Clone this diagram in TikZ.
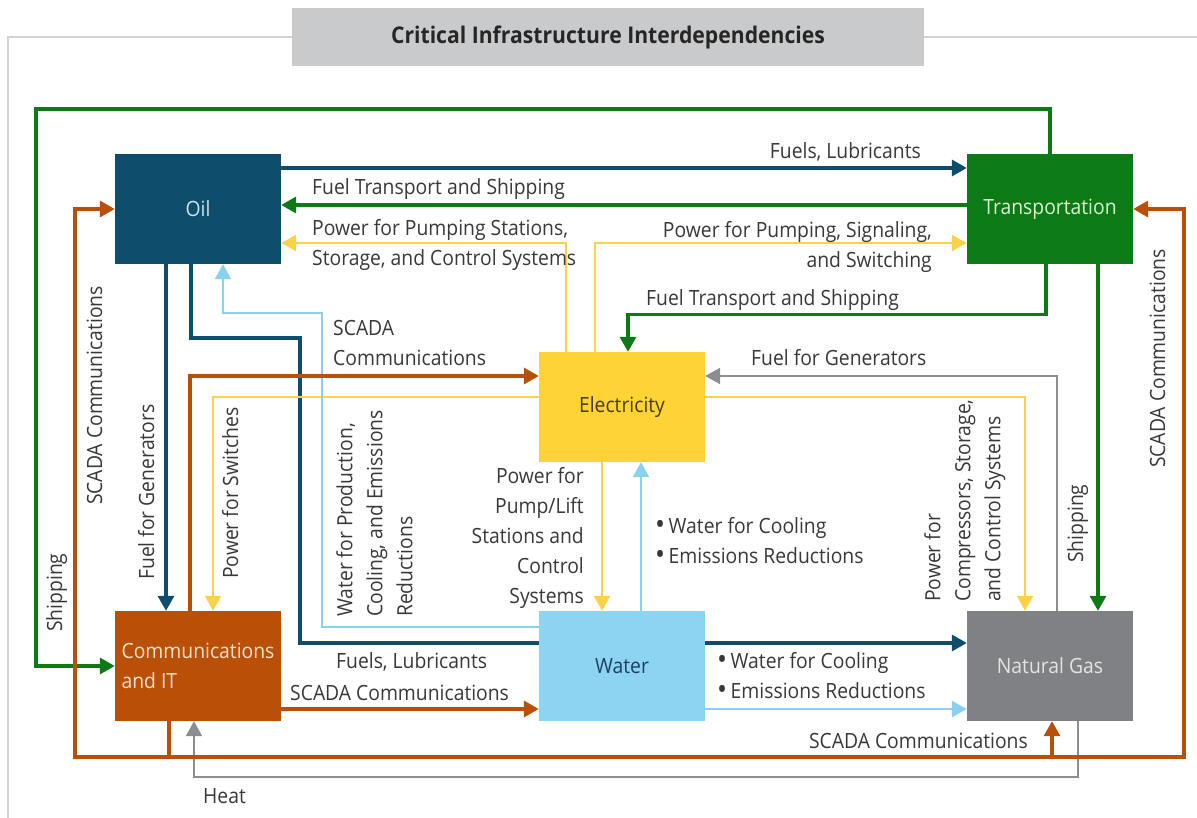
\documentclass[tikz,border=0pt]{standalone}
\usepackage{fontspec}
\setmainfont{Open Sans}[FakeStretch=0.92]
\usetikzlibrary{arrows.meta}
\pgfdeclarelayer{bg}
\pgfsetlayers{bg,main}
\definecolor{oilc}{HTML}{0E4D6C}
\definecolor{oilt}{HTML}{CCE3EE}
\definecolor{grnc}{HTML}{0C7A15}
\definecolor{grnt}{HTML}{DDF0D2}
\definecolor{yelc}{HTML}{FDD336}
\definecolor{yell}{HTML}{FAD24A}
\definecolor{yelt}{HTML}{4A3C0A}
\definecolor{watc}{HTML}{8DD4F3}
\definecolor{watl}{HTML}{88D1F1}
\definecolor{watt}{HTML}{1F3F5F}
\definecolor{comc}{HTML}{BA5008}
\definecolor{comt}{HTML}{F8E2CC}
\definecolor{gasc}{HTML}{808184}
\definecolor{gasl}{HTML}{8C8D90}
\definecolor{gast}{HTML}{E4E4E4}
\definecolor{titlec}{HTML}{C9CACC}
\definecolor{framec}{HTML}{D2D2D2}
\definecolor{txtc}{HTML}{383838}
\newcommand{\bigbul}{\raisebox{-1.2pt}{\fontsize{29}{30}\selectfont •}\,}
\begin{document}
\begin{tikzpicture}[x=1pt,y=-1pt,
  every node/.style={font=\fontsize{21}{30}\selectfont, inner sep=0pt},
  box/.style={minimum width=166pt, minimum height=110pt, inner sep=0pt},
  lbl/.style={text=txtc},
  arr/.style={-{Triangle[length=15pt,width=16pt]}},
  thick line/.style={line width=3.4pt, arr},
  thin line/.style={line width=2.2pt, arr},
  gline/.style={thick line, draw=grnc},
  bline/.style={thick line, draw=oilc},
  oline/.style={thick line, draw=comc},
  yline/.style={thin line, draw=yell},
  lline/.style={thin line, draw=watl},
  gyline/.style={thin line, draw=gasl}]
\useasboundingbox (0,0) rectangle (1197,818);
% title and frame
\node[fill=titlec, minimum width=632pt, minimum height=58pt, text=black!85, font=\fontsize{23}{30}\selectfont\bfseries] (title) at (608,37) {Critical Infrastructure Interdependencies};
\draw[framec, line width=2pt] (title.west) -- (8,37) -- (8,818);
\draw[framec, line width=2pt] (title.east) -- (1197,37);
% boxes
\node[box, fill=oilc, text=oilt] (oil) at (198,209) {Oil};
\node[box, fill=grnc, text=grnt] (trans) at (1050,209) {Transportation};
\node[box, fill=yelc, text=yelt] (elec) at (622,407) {Electricity};
\node[box, fill=watc, text=watt] (water) at (622,666) {Water};
\node[box, fill=comc, text=comt, align=left] (comms) at (198,666) {Communications\\and IT};
\node[box, fill=gasc, text=gast] (gas) at (1050,666) {Natural Gas};
% connectors
\begin{pgfonlayer}{bg}
% green (Transportation)
\draw[gline] (trans.north) |- (36,109) |- (comms.west);
\draw[gline] ([shift={(0,-4)}]trans.west) -- ([shift={(0,-4)}]oil.east);
\draw[gline] ([shift={(-4,0)}]trans.south) |- ([shift={(6,-37)}]elec.north) -- ([shift={(6,0)}]elec.north);
\draw[gline] ([shift={(48,0)}]trans.south) -- ([shift={(48,0)}]gas.north);
% dark blue (Oil)
\draw[bline] ([shift={(0,-41)}]oil.east) -- ([shift={(0,-41)}]trans.west);
\draw[bline] ([shift={(-32,0)}]oil.south) -- ([shift={(-32,0)}]comms.north);
\draw[bline] ([shift={(-7,0)}]oil.south) |- (300,338) |- ([shift={(0,-23)}]gas.west);
% yellow (Electricity)
\draw[yline] ([shift={(-56,0)}]elec.north) |- ([shift={(0,34)}]oil.east);
\draw[yline] ([shift={(-27,0)}]elec.north) |- ([shift={(0,34)}]trans.west);
\draw[yline] ([shift={(0,-10)}]elec.west) -| ([shift={(15,0)}]comms.north);
\draw[yline] ([shift={(-20,0)}]elec.south) -- ([shift={(-20,0)}]water.north);
\draw[yline] ([shift={(0,-10)}]elec.east) -| ([shift={(-25,0)}]gas.north);
% light blue (Water)
\draw[lline] ([shift={(0,-39)}]water.west) -| (322,313) -| ([shift={(25,0)}]oil.south);
\draw[lline] ([shift={(19,0)}]water.north) -- ([shift={(19,0)}]elec.south);
\draw[lline] ([shift={(0,43)}]water.east) -- ([shift={(0,43)}]gas.west);
% gray (Natural Gas)
\draw[gyline] ([shift={(7,0)}]gas.north) |- ([shift={(0,-31)}]elec.east);
\draw[gyline] ([shift={(28,0)}]gas.south) |- ([shift={(-4,56)}]comms.south) -- ([shift={(-4,0)}]comms.south);
% orange (Communications)
\draw[oline] ([shift={(-29,0)}]comms.south) |- (75,757) |- (oil.west);
\draw[oline] ([shift={(-29,0)}]comms.south) |- (1184,757) |- (trans.east);
\draw[oline] ([shift={(2,36)}]gas.south) -- ([shift={(2,0)}]gas.south);
\draw[oline] ([shift={(-8,0)}]comms.north) |- ([shift={(0,-31)}]elec.west);
\draw[oline] ([shift={(0,43)}]comms.east) -- ([shift={(0,43)}]water.west);
\end{pgfonlayer}
% horizontal labels
\node[lbl, anchor=base east] (l1) at (921,159) {Fuels, Lubricants};
\node[lbl, anchor=base west] (l2) at (312,195) {Fuel Transport and Shipping};
\node[lbl, anchor=north west, align=left] (l3) at (312,219) {Power for Pumping Stations,\\Storage, and Control Systems};
\node[lbl, anchor=north east, align=right] (l4) at (932,221) {Power for Pumping, Signaling,\\and Switching};
\node[lbl, anchor=base west] (l5) at (646,306) {Fuel Transport and Shipping};
\node[lbl, anchor=north west, align=left] (l6) at (333,320) {SCADA\\Communications};
\node[lbl, anchor=base west] (l7) at (751,365) {Fuel for Generators};
\node[lbl, anchor=north east, align=right] (l8) at (584,467) {Power for\\Pump/Lift\\Stations and\\Control\\Systems};
\node[lbl, anchor=north west, align=left] (l9) at (655,517) {\bigbul Water for Cooling\\\bigbul Emissions Reductions};
\node[lbl, anchor=north west, align=left] (l10) at (717,652) {\bigbul Water for Cooling\\\bigbul Emissions Reductions};
\node[lbl, anchor=base east] (l11) at (1028,748) {SCADA Communications};
\node[lbl, anchor=base west] (l12) at (336,668) {Fuels, Lubricants};
\node[lbl, anchor=base west] (l13) at (290,700) {SCADA Communications};
\node[lbl, anchor=base west] (l14) at (203,803) {Heat};
% rotated labels
\node[lbl, rotate=90, anchor=base west] (r1) at (62,632) {Shipping};
\node[lbl, rotate=90, anchor=base west] (r2) at (102,505) {SCADA Communications};
\node[lbl, rotate=90, anchor=base west] (r3) at (154,580) {Fuel for Generators};
\node[lbl, rotate=90, anchor=base west] (r4) at (238,579) {Power for Switches};
\node[lbl, rotate=90, anchor=north west, align=left] (r5) at (336,617) {Water for Production,\\Cooling, and Emissions\\Reductions};
\node[lbl, rotate=90, anchor=north west, align=left] (r6) at (924,602) {Power for\\Compressors, Storage,\\and Control Systems};
\node[lbl, rotate=90, anchor=base west] (r7) at (1083,563) {Shipping};
\node[lbl, rotate=90, anchor=base west] (r8) at (1165,468) {SCADA Communications};
\end{tikzpicture}
\end{document}
